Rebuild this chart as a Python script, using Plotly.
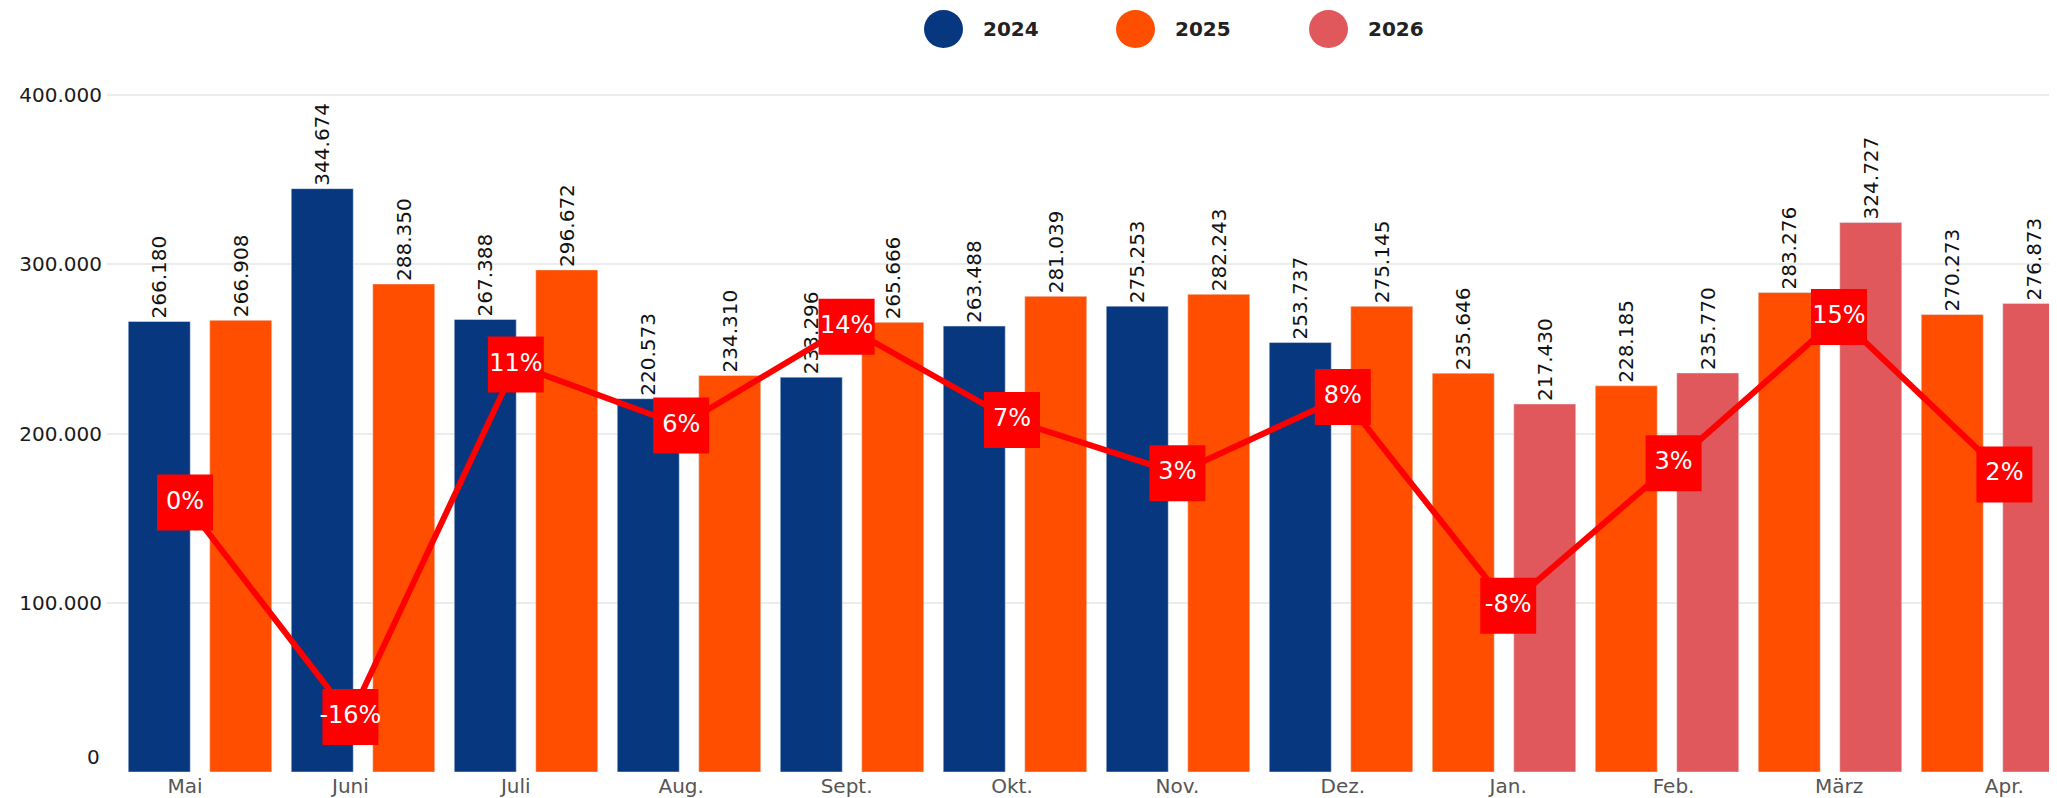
import plotly.graph_objects as go

# ---------------- data ----------------
months = ["Mai", "Juni", "Juli", "Aug.", "Sept.", "Okt.", "Nov.", "Dez.",
          "Jan.", "Feb.", "März", "Apr."]
# 2024 values (Mai..Dez)
values_2024 = [266180, 344674, 267388, 220573, 233296, 263488, 275253, 253737]
# 2025 values for every month label (Mai..Dez as current year, Jan..Apr as previous year)
values_2025 = [266908, 288350, 296672, 234310, 265666, 281039, 282243, 275145,
               235646, 228185, 283276, 270273]
# 2026 values (Jan..Apr)
values_2026 = [217430, 235770, 324727, 276873]
# year-over-year change in percent
change_pct = [0.27, -16.34, 10.95, 6.23, 13.88, 6.66, 2.54, 8.44,
              -7.73, 3.32, 14.63, 2.44]
change_labels = [f"{round(v):d}%" for v in change_pct]

# ---------------- styling ----------------
OFF = 8                      # default page margin of the html body
W, H = 2057 - OFF, 798 - OFF
ML, MR, MT, MB = 107 - OFF, 0, 70 - OFF, 26
PW, PH = W - ML - MR, H - MT - MB
C24, C25, C26 = "#06377f", "#ff4e00", "#e0585c"
FONT = "DejaVu Sans"

idx = list(range(len(months)))
n24 = len(values_2024)
x_prev_a = idx[:n24]          # months where 2024 is the left bar
x_prev_b = idx[n24:]          # months where 2025 is the left bar

bar_text = dict(texttemplate="%{y:,.0f}", textposition="outside", textangle=-90,
                textfont=dict(family=FONT, size=20, color="#111111"),
                cliponaxis=False, constraintext="none")

fig = go.Figure()
fig.add_trace(go.Bar(name="2024", x=x_prev_a, y=values_2024, marker_color=C24,
                     offsetgroup="left", legendgroup="2024", **bar_text))
fig.add_trace(go.Bar(name="2025", x=x_prev_b, y=values_2025[n24:], marker_color=C25,
                     offsetgroup="left", legendgroup="2025", showlegend=False, **bar_text))
fig.add_trace(go.Bar(name="2025", x=x_prev_a, y=values_2025[:n24], marker_color=C25,
                     offsetgroup="right", legendgroup="2025", **bar_text))
fig.add_trace(go.Bar(name="2026", x=x_prev_b, y=values_2026, marker_color=C26,
                     offsetgroup="right", legendgroup="2026", **bar_text))

fig.add_trace(go.Scatter(
    x=idx, y=change_pct, xaxis="x2", yaxis="y2", mode="lines+markers+text",
    line=dict(color="#ff0000", width=6),
    marker=dict(symbol="square", size=56, color="#ff0000", line=dict(width=0)),
    text=change_labels, textposition="middle center",
    textfont=dict(family=FONT, size=24, color="#ffffff"),
    cliponaxis=False, showlegend=False))

# pixel mapping helpers for layout (axis ranges), figure pixel coordinates
bar_pitch = 163.0
bar_center0 = 200.0 - OFF
x0 = -(bar_center0 - ML) / bar_pitch
x1 = x0 + PW / bar_pitch

line_pitch = 165.4
line_center0 = 185.0 - OFF
lx0 = -(line_center0 - ML) / line_pitch
lx1 = lx0 + PW / line_pitch

px_per_100k = 169.25
y_top = PH / px_per_100k * 100000

pct_zero_px = 506.0 - OFF
px_per_pct = 12.914
bottom_px = MT + PH
y2_lo = (pct_zero_px - bottom_px) / px_per_pct
y2_hi = (pct_zero_px - MT) / px_per_pct

fig.update_layout(
    width=W, height=H,
    margin=dict(l=ML, r=MR, t=MT, b=MB, pad=0),
    paper_bgcolor="white", plot_bgcolor="white",
    separators=",.",
    barmode="group", bargap=0.0, bargroupgap=0.239,
    showlegend=False,
    font=dict(family=FONT),
    xaxis=dict(range=[x0, x1], showticklabels=False,
               showgrid=False, zeroline=False, showline=False, ticks=""),
    xaxis2=dict(range=[lx0, lx1], overlaying="x", anchor="y", side="bottom",
                tickmode="array", tickvals=idx, ticktext=months,
                showgrid=False, zeroline=False, showline=False, ticks="",
                tickfont=dict(family=FONT, size=20, color="#555555")),
    yaxis=dict(range=[0, y_top], tickmode="array",
               tickvals=[100000, 200000, 300000, 400000],
               tickformat=",.0f", showgrid=True, gridcolor="#ececec", gridwidth=1.5,
               zeroline=False, showline=False, ticks="", ticklabelstandoff=4,
               tickfont=dict(family=FONT, size=20, color="#1a1a1a")),
    yaxis2=dict(range=[y2_lo, y2_hi], overlaying="y", visible=False),
)

# "0" tick label (shown slightly raised as in the original)
fig.add_annotation(x=0, xref="paper", y=0, yref="y", text="0", showarrow=False,
                   xanchor="right", yanchor="middle", xshift=-5, yshift=15,
                   font=dict(family=FONT, size=20, color="#1a1a1a"))

# custom legend with large circles
legend_items = [("2024", C24, 943.5 - OFF), ("2025", C25, 1135.5 - OFF),
                ("2026", C26, 1328.5 - OFF)]
leg_y = (bottom_px - (29 - OFF)) / PH
for label, color, cx in legend_items:
    xp = (cx - ML) / PW
    fig.add_shape(type="circle", xref="paper", yref="paper",
                  xsizemode="pixel", ysizemode="pixel",
                  xanchor=xp, yanchor=leg_y, x0=-19.5, x1=19.5, y0=-19, y1=19,
                  fillcolor=color, line=dict(width=0))
    fig.add_annotation(x=(cx + 37 - ML) / PW, xref="paper", y=leg_y, yref="paper",
                       text=label, showarrow=False, xanchor="left", yanchor="middle",
                       font=dict(family=FONT, size=20, color="#222222", weight="bold"))

fig.write_html("out.html")
